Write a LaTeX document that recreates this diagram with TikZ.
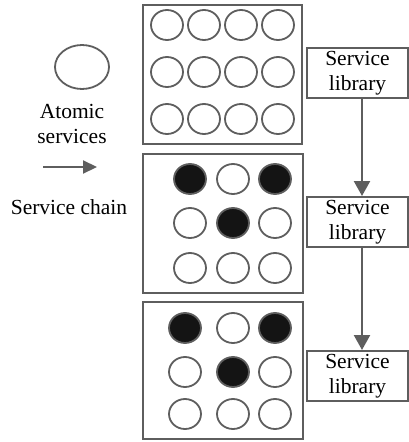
\documentclass[tikz,border=0pt]{standalone}
\usepackage{fontspec}
\setmainfont{Liberation Serif}
\usetikzlibrary{shapes.geometric,arrows.meta}
\definecolor{lg}{HTML}{5E5E5E}
\definecolor{dk}{HTML}{141414}
\begin{document}
\begin{tikzpicture}[x=1pt,y=-1pt,
  panel/.style={draw=lg,line width=2.2pt,inner sep=0pt,fill=none},
  atom/.style={ellipse,draw=lg,line width=1.8pt,inner sep=0pt,minimum width=#1,minimum height=#1-2},
  atom/.default=32,
  busy/.style={atom,fill=dk},
  lib/.style={draw=lg,line width=2pt,minimum width=101pt,minimum height=50pt,inner sep=0pt,align=center,font=\fontsize{21.5}{25}\selectfont},
  txt/.style={font=\fontsize{21.5}{25}\selectfont,align=center,inner sep=0pt},
  flow/.style={draw=lg,line width=2.4pt,-{Triangle[length=15pt,width=16pt]}}
]
\useasboundingbox (0,0) rectangle (409,442);
% legend
\node[ellipse,draw=lg,line width=1.8pt,minimum width=54pt,minimum height=44pt] (big) at (82,67) {};
\node[txt] (atomic) at (72,124) {Atomic\\services};
\coordinate (la) at (43,167);
\coordinate (lb) at (97,167);
\draw[draw=lg,line width=2.2pt,-{Triangle[length=14pt,width=13pt]}] (la) -- (lb);
\node[txt] (chain) at (69,207) {Service chain};
% panels
\node[panel,minimum width=159pt,minimum height=139pt] (p1) at (222.5,74.5) {};
\node[panel,minimum width=160pt,minimum height=139pt] (p2) at (223,223.5) {};
\node[panel,minimum width=160pt,minimum height=137pt] (p3) at (223,370.5) {};
% panel 1
\foreach \r/\y in {1/25,2/72,3/119}{
  \foreach \c/\x in {1/167,2/204,3/241,4/278}{
    \node[atom=32] (a\r\c) at (\x,\y) {};
  }
}
% panel 2
\node[busy] (b11) at (190,179) {};
\node[atom] (b12) at (233,179) {};
\node[busy] (b13) at (275,179) {};
\node[atom] (b21) at (190,223) {};
\node[busy] (b22) at (233,223) {};
\node[atom] (b23) at (275,223) {};
\node[atom] (b31) at (190,268) {};
\node[atom] (b32) at (233,268) {};
\node[atom] (b33) at (275,268) {};
% panel 3
\node[busy] (c11) at (185,328) {};
\node[atom] (c12) at (233,328) {};
\node[busy] (c13) at (275,328) {};
\node[atom] (c21) at (185,372) {};
\node[busy] (c22) at (233,372) {};
\node[atom] (c23) at (275,372) {};
\node[atom] (c31) at (185,414) {};
\node[atom] (c32) at (233,414) {};
\node[atom] (c33) at (275,414) {};
% libraries
\node[lib] (l1) at (357.5,73) {Service\\library};
\node[lib] (l2) at (357.5,222) {Service\\library};
\node[lib] (l3) at (357.5,376) {Service\\library};
\draw[flow] ([xshift=4.5pt]l1.south) -- ([xshift=4.5pt]l2.north);
\draw[flow] ([xshift=4.5pt]l2.south) -- ([xshift=4.5pt]l3.north);
\end{tikzpicture}
\end{document}
